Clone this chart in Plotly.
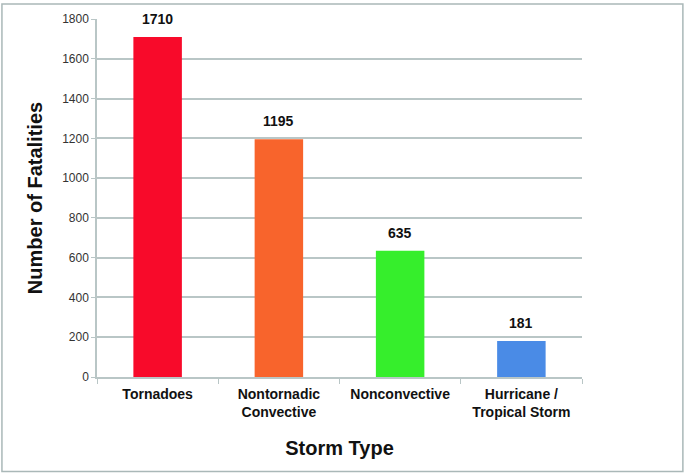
import plotly.graph_objects as go

storm_types = ["Tornadoes", "Nontornadic<br>Convective", "Nonconvective", "Hurricane /<br>Tropical Storm"]
fatalities = [1710, 1195, 635, 181]
bar_colors = ["#F80A2A", "#F8642C", "#36EE2C", "#4A8BE6"]

fig = go.Figure(go.Bar(
    x=storm_types, y=fatalities,
    marker=dict(color=bar_colors, line=dict(width=0)),
    width=0.4, hoverinfo="x+y",
))

# value labels above bars
for cat, val in zip(storm_types, fatalities):
    fig.add_annotation(x=cat, y=val, text=f"<b>{val}</b>", showarrow=False,
                       yanchor="bottom", yshift=8,
                       font=dict(family="Liberation Sans, Arial", size=14, color="#111111"))

grid = "#B9C6C6"
fig.update_layout(
    width=685, height=475, plot_bgcolor="white", paper_bgcolor="white",
    margin=dict(l=97, r=103, t=17, b=98),
    showlegend=False, bargap=0.6,
    font=dict(family="Liberation Sans, Arial", color="#222222"),
)
fig.update_yaxes(
    range=[0, 1800], dtick=200, showgrid=True, gridcolor=grid, gridwidth=1.5,
    showline=True, linecolor=grid, linewidth=1.5, ticks="outside", ticklen=4,
    tickcolor=grid, tickfont=dict(size=12, color="#333333"), zeroline=False,
    title=dict(text="<b>Number of Fatalities</b>", font=dict(size=20, color="#111111"), standoff=14),
)
fig.update_xaxes(
    showline=True, linecolor=grid, linewidth=1.5, ticks="outside", ticklen=5,
    tickcolor=grid, tickson="boundaries", tickfont=dict(size=14, color="#111111"),
    tickprefix="<b>", ticksuffix="</b>", ticklabelstandoff=3,
    title=dict(text="<b>Storm Type</b>", font=dict(size=20, color="#111111"), standoff=22),
)
fig.add_shape(type="rect", xref="paper", yref="paper", x0=-0.196, x1=1.208, y0=-0.264, y1=1.042,
              line=dict(color="#AAB8B8", width=1.5))

fig.write_html("out.html", config={"displayModeBar": False},
               post_script="document.body.style.margin='0';")
